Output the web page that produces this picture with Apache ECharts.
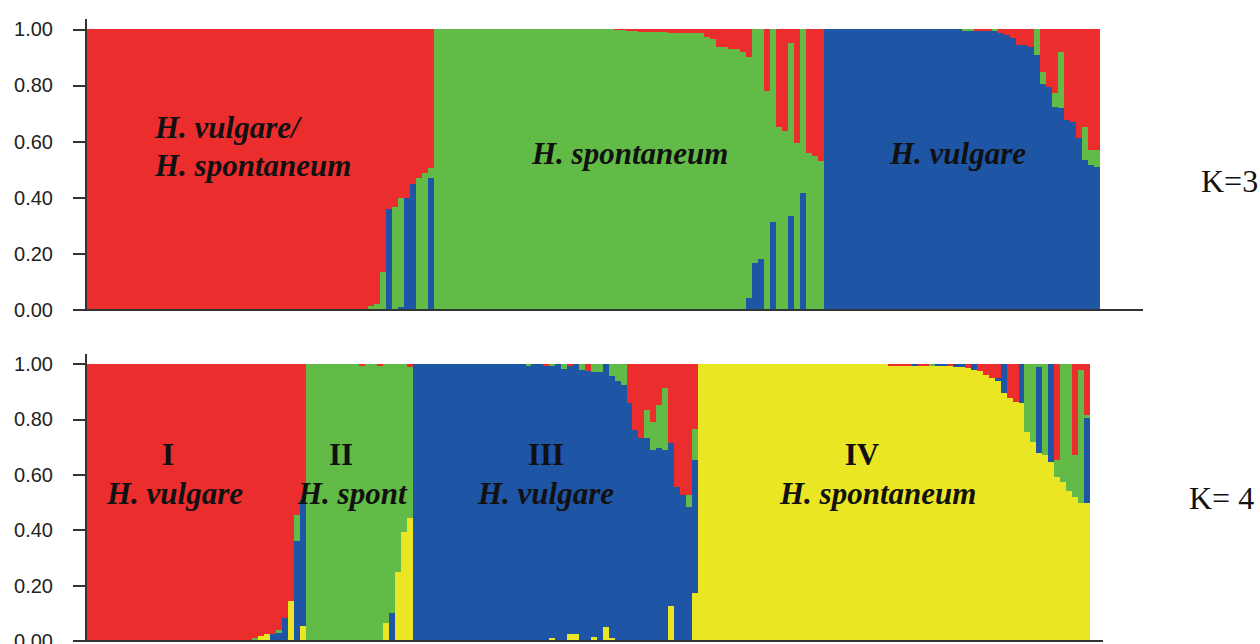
<!DOCTYPE html>
<html>
<head>
<meta charset="utf-8">
<script src="https://cdn.jsdelivr.net/npm/echarts@6/dist/echarts.min.js"></script>
<style>
html,body{margin:0;padding:0;background:#fff;overflow:hidden;}
#chart{width:1260px;height:644px;}
#chart svg path{shape-rendering:crispEdges;}
</style>
</head>
<body>
<div id="chart"></div>
<script>
// ---------- data ----------
const yTicks = [0, 0.2, 0.4, 0.6, 0.8, 1.0];
const clusterColors = { red: '#EC2D2D', green: '#62BB47', blue: '#1F55A5', yellow: '#EAE623' };

// K = 3 (169 individuals) membership coefficients
const k3Red = [
1,1,1,1,1,1,1,1,1,1,
1,1,1,1,1,1,1,1,1,1,
1,1,1,1,1,1,1,1,1,1,
1,1,1,1,1,1,1,1,1,1,
1,1,1,1,1,.995,.995,.986,.98,.863,
.64,.634,.60,.60,.55,.53,.513,.493,0,0,
0,0,0,0,0,0,0,0,0,0,
0,0,0,0,0,0,0,0,0,0,
0,0,0,0,0,0,0,0,.004,.004,
.006,.006,.008,.008,.01,.01,.01,.012,.012,.012,
.014,.014,.014,.026,.036,.062,.062,.071,.071,.08,
.10,0,0,.22,0,.347,.361,.05,.406,0,
.44,.45,.47,0,0,0,0,0,0,0,
0,0,0,0,0,0,0,0,0,0,
0,0,0,0,0,0,0,0,.006,.006,
.006,0,.012,.02,.032,.056,.056,.062,0,.151,
.204,.228,.08,.323,.33,.388,.349,.43,.43
];
const k3Green = [
0,0,0,0,0,0,0,0,0,0,
0,0,0,0,0,0,0,0,0,0,
0,0,0,0,0,0,0,0,0,0,
0,0,0,0,0,0,0,0,0,0,
0,0,0,0,0,.005,.005,.014,.02,.137,
0,.366,.39,0,0,.47,.487,.037,1,1,
1,1,1,1,1,1,1,1,1,1,
1,1,1,1,1,1,1,1,1,1,
1,1,1,1,1,1,1,1,.996,.996,
.994,.994,.992,.992,.99,.99,.99,.988,.988,.988,
.986,.986,.986,.974,.964,.938,.938,.929,.929,.92,
.856,.834,.82,.78,.685,.653,.639,.615,.594,.584,
.56,.55,.53,0,0,0,0,0,0,0,
0,0,0,0,0,0,0,0,0,0,
0,0,0,0,0,0,.006,.006,0,0,
0,.006,0,0,0,0,0,0,.092,.042,
0,.047,.2,0,0,0,.116,.053,.06
];
const k3Blue = [
0,0,0,0,0,0,0,0,0,0,
0,0,0,0,0,0,0,0,0,0,
0,0,0,0,0,0,0,0,0,0,
0,0,0,0,0,0,0,0,0,0,
0,0,0,0,0,0,0,0,0,0,
.36,0,.01,.40,.45,0,0,.47,0,0,
0,0,0,0,0,0,0,0,0,0,
0,0,0,0,0,0,0,0,0,0,
0,0,0,0,0,0,0,0,0,0,
0,0,0,0,0,0,0,0,0,0,
0,0,0,0,0,0,0,0,0,0,
.044,.166,.18,0,.315,0,0,.335,0,.416,
0,0,0,1,1,1,1,1,1,1,
1,1,1,1,1,1,1,1,1,1,
1,1,1,1,1,1,.994,.994,.994,.994,
.994,.994,.988,.98,.968,.944,.944,.938,.908,.807,
.796,.725,.72,.677,.67,.612,.535,.517,.51
];

// K = 4 (169 individuals) membership coefficients
const k4Red = [
1,1,1,1,1,1,1,1,1,1,
1,1,1,1,1,1,1,1,1,1,
1,1,1,1,1,1,1,1,.988,.982,
.975,.975,.96,.918,.856,.544,.49,0,0,0,
0,0,0,0,0,0,.008,0,0,.008,
0,0,0,0,.01,0,0,0,0,0,
0,0,0,0,0,0,0,0,0,0,
0,0,0,0,0,0,0,.006,0,0,
0,.008,0,0,.026,0,0,0,0,0,
0,.14,.238,.268,.166,.208,.148,.088,.286,.443,
.473,.473,.235,0,0,0,0,0,0,0,
0,0,0,0,0,0,0,0,0,0,
0,0,0,0,0,0,0,0,0,0,
0,0,0,0,0,.007,.007,.007,.007,0,
.007,.007,0,0,0,.008,0,0,.015,0,
.027,.04,.05,.05,0,.124,.136,0,0,0,
0,0,0,.347,0,0,.33,.02,.184
];
const k4Green = [
0,0,0,0,0,0,0,0,0,0,
0,0,0,0,0,0,0,0,0,0,
0,0,0,0,0,0,0,0,.012,0,
0,0,.01,0,0,.096,0,1,1,1,
1,1,1,1,1,1,.992,1,1,.992,
.936,.898,.752,.608,.547,0,0,0,0,0,
0,0,0,0,0,0,0,0,0,0,
0,0,0,0,.006,0,0,0,.006,0,
.019,0,0,.022,0,.03,.03,0,.045,.06,
.076,0,0,0,.102,.102,.157,.222,0,0,
0,.042,.11,0,0,0,0,0,0,0,
0,0,0,0,0,0,0,0,0,0,
0,0,0,0,0,0,0,0,0,0,
0,0,0,0,0,0,0,0,0,0,
0,0,.007,0,0,0,0,0,0,0,
0,0,0,0,0,0,0,0,.244,.28,
.01,.328,0,.06,.425,.46,.15,.48,.012
];
const k4Blue = [
0,0,0,0,0,0,0,0,0,0,
0,0,0,0,0,0,0,0,0,0,
0,0,0,0,0,0,0,0,0,0,
0,.025,.03,.082,0,.36,.455,0,0,0,
0,0,0,0,0,0,0,0,0,0,
0,.102,0,0,0,1,1,1,1,1,
1,1,1,1,1,1,1,1,1,1,
1,1,1,1,.994,1,1,.994,.984,1,
.981,.967,.975,.978,.974,.955,.97,.95,.945,.94,
.924,.86,.762,.732,.732,.69,.695,.69,.588,.557,
.527,.485,.48,0,0,0,0,0,0,0,
0,0,0,0,0,0,0,0,0,0,
0,0,0,0,0,0,0,0,0,0,
0,0,0,0,0,0,0,0,0,.007,
0,0,0,.007,.007,0,.01,.012,0,.02,
0,0,0,.013,.106,0,0,.142,0,0,
.313,0,.352,0,0,0,0,0,.307
];
const k4Yellow = [
0,0,0,0,0,0,0,0,0,0,
0,0,0,0,0,0,0,0,0,0,
0,0,0,0,0,0,0,0,0,.018,
.025,0,0,0,.144,0,.055,0,0,0,
0,0,0,0,0,0,0,0,0,0,
.064,0,.248,.392,.443,0,0,0,0,0,
0,0,0,0,0,0,0,0,0,0,
0,0,0,0,0,0,0,0,.01,0,
0,.025,.025,0,0,.015,0,.05,.01,0,
0,0,0,0,0,0,0,0,.126,0,
0,0,.175,1,1,1,1,1,1,1,
1,1,1,1,1,1,1,1,1,1,
1,1,1,1,1,1,1,1,1,1,
1,1,1,1,1,.993,.993,.993,.993,.993,
.993,.993,.993,.993,.993,.992,.99,.988,.985,.98,
.973,.96,.95,.937,.894,.876,.864,.858,.756,.72,
.677,.672,.648,.593,.575,.54,.52,.5,.497
];

// sample ids (axis categories) plus empty slots where the axis line runs on
const samplesK3 = k3Red.map((_, i) => 'S' + (i + 1)).concat(['p1','p2','p3','p4','p5','p6','p7']);
const samplesK4 = k4Red.map((_, i) => 'S' + (i + 1)).concat(['p1','p2']);

// ---------- chart ----------
const chart = echarts.init(document.getElementById('chart'), null, { renderer: 'svg' });

function xAx(gi, cats) {
  return {
    type: 'category', gridIndex: gi, data: cats, boundaryGap: true,
    axisTick: { show: false }, axisLabel: { show: false },
    axisLine: { show: true, lineStyle: { color: '#333', width: 2 } },
    splitLine: { show: false }, z: 10
  };
}
function yAx(gi) {
  return {
    type: 'value', gridIndex: gi, min: 0, max: 1.034,
    axisLine: { show: true, lineStyle: { color: '#333', width: 2 } },
    axisTick: { show: true, length: 13, customValues: yTicks, lineStyle: { color: '#333', width: 2 } },
    axisLabel: { customValues: yTicks, margin: 33, formatter: v => v.toFixed(2),
      fontFamily: '"Liberation Sans", Arial, sans-serif', fontSize: 20, color: '#222' },
    splitLine: { show: false }, z: 10
  };
}
function bar(name, data, color, gi, stack) {
  return {
    name, type: 'bar', data, stack, xAxisIndex: gi, yAxisIndex: gi,
    barWidth: '100%', silent: true,
    itemStyle: { color }, emphasis: { disabled: true }
  };
}

const serifBI = 'italic bold 31px "Liberation Serif", "Times New Roman", serif';
const serifB = 'bold 31px "Liberation Serif", "Times New Roman", serif';
const serifR = '32px "Liberation Serif", "Times New Roman", serif';
function txt(text, x, y, font, align) {
  return { type: 'text', x, y, z: 100, silent: true,
    style: { text, font, fill: '#111', align: align || 'left', verticalAlign: 'middle' } };
}

chart.setOption({
  animation: false,
  backgroundColor: '#fff',
  grid: [
    { left: 86, top: 19.8, width: 1056, height: 290.2, outerBoundsMode: 'none', containLabel: false },
    { left: 86, top: 354.6, width: 1015.7, height: 286.4, outerBoundsMode: 'none', containLabel: false }
  ],
  xAxis: [xAx(0, samplesK3), xAx(1, samplesK4)],
  yAxis: [yAx(0), yAx(1)],
  series: [
    bar('K3 blue', k3Blue, clusterColors.blue, 0, 'k3'),
    bar('K3 green', k3Green, clusterColors.green, 0, 'k3'),
    bar('K3 red', k3Red, clusterColors.red, 0, 'k3'),
    bar('K4 yellow', k4Yellow, clusterColors.yellow, 1, 'k4'),
    bar('K4 blue', k4Blue, clusterColors.blue, 1, 'k4'),
    bar('K4 green', k4Green, clusterColors.green, 1, 'k4'),
    bar('K4 red', k4Red, clusterColors.red, 1, 'k4')
  ],
  graphic: [
    txt('H. vulgare/', 155, 127, serifBI),
    txt('H. spontaneum', 155, 165, serifBI),
    txt('H. spontaneum', 532, 153, serifBI),
    txt('H. vulgare', 890, 153, serifBI),
    txt('K=3', 1201, 181, serifR),
    txt('I', 168, 454, serifB, 'center'),
    txt('H. vulgare', 107, 493, serifBI),
    txt('II', 341, 454, serifB, 'center'),
    txt('H. spont', 298, 493, serifBI),
    txt('III', 546, 454, serifB, 'center'),
    txt('H. vulgare', 478, 493, serifBI),
    txt('IV', 862, 454, serifB, 'center'),
    txt('H. spontaneum', 780, 493, serifBI),
    txt('K= 4', 1189, 498, serifR)
  ]
});
</script>
</body>
</html>
